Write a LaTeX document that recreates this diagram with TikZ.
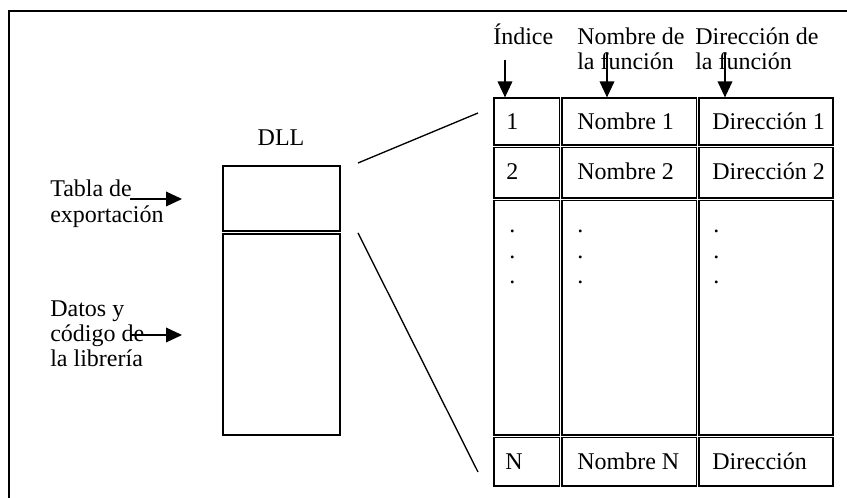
\documentclass[tikz,border=0pt]{standalone}
\usepackage{fontspec}
\setmainfont{Liberation Serif}
\usetikzlibrary{arrows.meta}
\begin{document}
\begin{tikzpicture}[x=0.75pt,y=-0.75pt,
  font=\fontsize{18}{19}\selectfont,
  lbl/.style={anchor=base west,inner sep=0pt},
  cell/.style={draw,line width=0.9pt,inner sep=0pt},
  dllbox/.style={draw,line width=1pt,inner sep=0pt},
  arr/.style={line width=1pt,-{Triangle[length=12pt,width=11pt]}},
  link/.style={line width=1pt}]
\useasboundingbox (0,0) rectangle (847,498);
% outer frame (runs past the right and bottom edges)
\draw[line width=1.4pt] (9,520) -- (9,11) -- (870,11);

% ---- export table: cells ----
\newcommand{\tcell}[5]{% name, x1, y1, x2, y2
  \node[cell,minimum width={(#4-#2)*0.75pt},minimum height={(#5-#3)*0.75pt}]
    (#1) at ({(#2+#4)/2},{(#3+#5)/2}) {};}
\tcell{i1}{494}{98}{559.5}{145}
\tcell{n1}{562}{98}{696.5}{145}
\tcell{a1}{699}{98}{833}{145}
\tcell{i2}{494}{147.5}{559.5}{198}
\tcell{n2}{562}{147.5}{696.5}{198}
\tcell{a2}{699}{147.5}{833}{198}
\tcell{i3}{494}{200.5}{559.5}{435}
\tcell{n3}{562}{200.5}{696.5}{435}
\tcell{a3}{699}{200.5}{833}{435}
\tcell{iN}{494}{437.5}{559.5}{486}
\tcell{nN}{562}{437.5}{696.5}{486}
\tcell{aN}{699}{437.5}{833}{486}

% ---- cell texts ----
\node[lbl] (t11) at (506,130) {1};
\node[lbl] (t12) at (577,130) {Nombre 1};
\node[lbl] (t13) at (712,130) {Dirección 1};
\node[lbl] (t21) at (506,180) {2};
\node[lbl] (t22) at (577,180) {Nombre 2};
\node[lbl] (t23) at (712,180) {Dirección 2};
\node[lbl] (tN1) at (505,470) {N};
\node[lbl] (tN2) at (577,470) {Nombre N};
\node[lbl] (tN3) at (712,470) {Dirección};
\foreach \c/\x in {1/509,2/577,3/713}
  \foreach \r/\y in {1/233,2/259,3/284}
    \node[lbl] (dot\c\r) at (\x,\y) {.};

% ---- column headings ----
\node[lbl] (hI) at (493,45) {Índice};
\node[lbl] (hN1) at (577,45) {Nombre de};
\node[lbl] (hN2) at (577,70) {la función};
\node[lbl] (hA1) at (695,45) {Dirección de};
\node[lbl] (hA2) at (695,70) {la función};
\coordinate (sI) at (505,60);
\coordinate (sN) at (607,53);
\coordinate (sA) at (725,53);
\draw[arr] (sI) -- (sI |- i1.north);
\draw[arr] (sN) -- (sN |- n1.north);
\draw[arr] (sA) -- (sA |- a1.north);

% ---- DLL ----
\node[anchor=base,inner sep=0pt] (dll) at (281,146) {DLL};
\node[dllbox,minimum width={117*0.75pt},minimum height={65*0.75pt}]
  (exp) at (281.5,198.5) {};
\node[dllbox,minimum width={117*0.75pt},minimum height={201*0.75pt}]
  (dat) at (281.5,334.5) {};

\node[lbl] (l1) at (50,197) {Tabla de};
\node[lbl] (l2) at (50,223) {exportación};
\node[lbl] (l3) at (50,317) {Datos y};
\node[lbl] (l4) at (50,342) {código de};
\node[lbl] (l5) at (50,367) {la librería};
\coordinate (e0) at (130,199);
\coordinate (e1) at (182,199);
\coordinate (d0) at (130,335);
\coordinate (d1) at (182,335);
\draw[arr] (e0) -- (e1);
\draw[arr] (d0) -- (d1);

% ---- zoom lines from the DLL to the table ----
\coordinate (z1) at (358,163);
\coordinate (z2) at (478,113);
\coordinate (z3) at (358,233);
\coordinate (z4) at (478,472);
\draw[link] (z1) -- (z2);
\draw[link] (z3) -- (z4);
\end{tikzpicture}
\end{document}
